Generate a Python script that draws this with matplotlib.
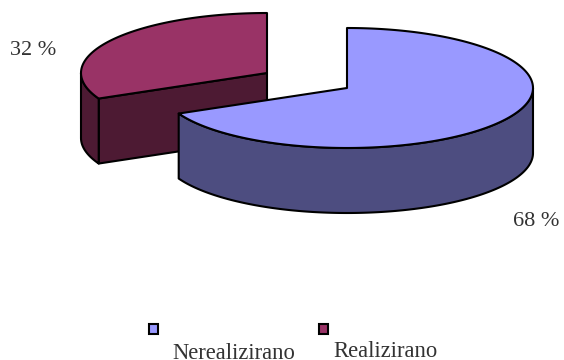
import numpy as np
import matplotlib
matplotlib.use('Agg')
import matplotlib.pyplot as plt
from matplotlib.patches import Polygon, Rectangle

# Podaci
labels = ['Nerealizirano', 'Realizirano']
shares = [68, 32]
top_colors = ['#9999FF', '#993366']
side_colors = ['#4D4D80', '#4D1A33']

# Geometrija kolaca u pikselima
rx, ry, depth = 186, 60, 65
centers = [(347, 88), (267, 73)]

fig = plt.figure(figsize=(5.64, 3.60), dpi=100)
ax = fig.add_axes([0, 0, 1, 1])
ax.set_xlim(0, 564)
ax.set_ylim(360, 0)
ax.axis('off')
plt.rcParams['font.family'] = ['Liberation Serif', 'DejaVu Serif']


def rim(cx, cy, a0, a1):
    # Kutovi se mjere od vrha, u smjeru kazaljke na satu
    a = np.radians(np.linspace(a0, a1, 200))
    return np.column_stack([cx + rx * np.sin(a), cy - ry * np.cos(a)])


def wall(points):
    # Bocna ploha ispod zadanog ruba
    lower = points[::-1] + [0, depth]
    return np.vstack([points, lower])


def draw(pts, color, z):
    ax.add_patch(Polygon(pts, closed=True, facecolor=color, edgecolor='black',
                         linewidth=1.5, joinstyle='round', zorder=z))


# Isjecci, od pocetka kruga
angles = np.cumsum([0] + shares) * 3.6

# Realizirano ide prvo jer je iza
cx, cy = centers[1]
a0, a1 = angles[1], angles[2]
draw(wall(np.array([[cx, cy], rim(cx, cy, a0, a0 + 1)[0]])), side_colors[1], 1)
draw(wall(rim(cx, cy, a0, 270)), side_colors[1], 1)
draw(np.vstack([[cx, cy], rim(cx, cy, a0, a1)]), top_colors[1], 2)

# Nerealizirano
cx, cy = centers[0]
a0, a1 = angles[0], angles[1]
draw(wall(rim(cx, cy, 90, a1)), side_colors[0], 3)
draw(np.vstack([[cx, cy], rim(cx, cy, a0, a1)]), top_colors[0], 4)

# Postoci
ax.text(10, 55, '%d %%' % shares[1], fontsize=16, color='#333333', va='baseline', ha='left')
ax.text(513, 226, '%d %%' % shares[0], fontsize=16, color='#333333', va='baseline', ha='left')

# Legenda
legend_boxes = [149, 319]
legend_x = [172, 333]
legend_y = [359, 357]
for i in range(len(labels)):
    ax.add_patch(Rectangle((legend_boxes[i], 324), 9, 10, facecolor=top_colors[i],
                           edgecolor='black', linewidth=1.5))
    ax.text(legend_x[i], legend_y[i], labels[i], fontsize=16.3, color='#333333',
            va='baseline', ha='left')

fig.savefig('out.png', dpi=100, facecolor='white')
